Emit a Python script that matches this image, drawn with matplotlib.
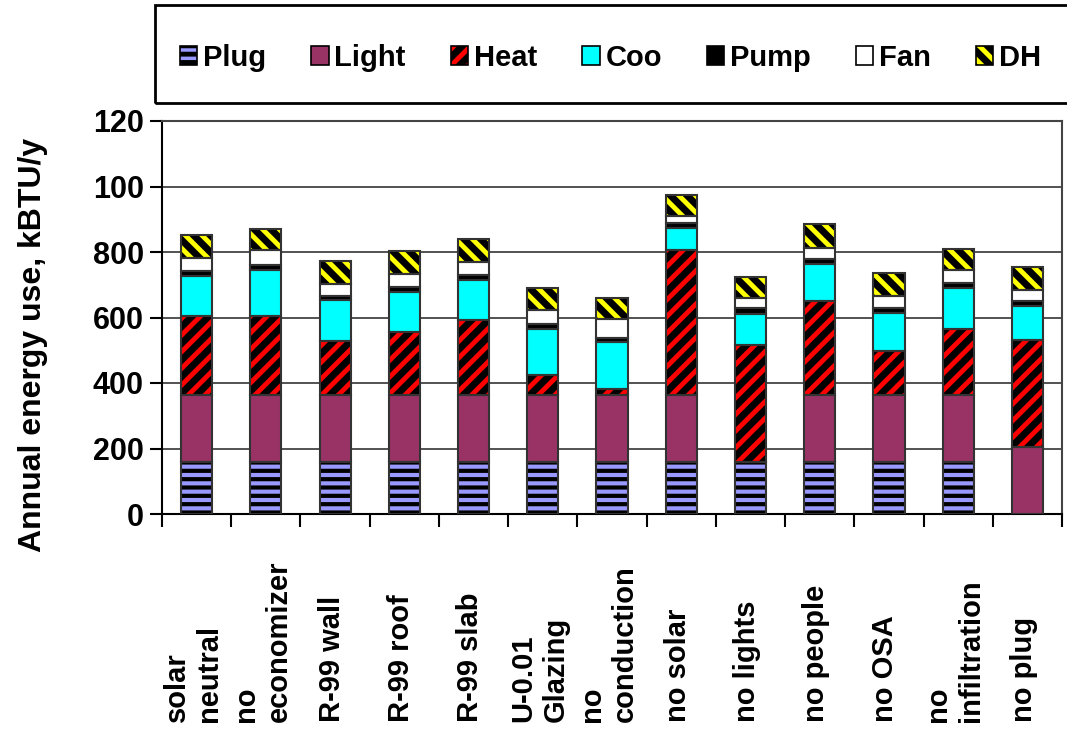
import matplotlib.pyplot as plt
import numpy as np
from matplotlib.patches import Patch, Rectangle
from matplotlib.legend_handler import HandlerTuple
from matplotlib.transforms import blended_transform_factory

plt.rcParams['font.family'] = ['Liberation Sans', 'DejaVu Sans']
plt.rcParams['font.weight'] = 'bold'
plt.rcParams['hatch.linewidth'] = 3.5

# ---- data (axis units 0-120) ----
categories = ["solar\nneutral", "no\neconomizer", "R-99 wall", "R-99 roof", "R-99 slab",
              "U-0.01\nGlazing", "no\nconduction", "no solar", "no lights", "no people",
              "no OSA", "no\ninfiltration", "no plug"]
plug  = [15.8, 15.8, 15.8, 15.8, 15.8, 15.8, 15.8, 15.8, 15.8, 15.8, 15.8, 15.8, 0.0]
light = [20.5, 20.5, 20.5, 20.5, 20.5, 20.5, 20.5, 20.5, 0.0, 20.5, 20.5, 20.5, 20.4]
heat  = [24.2, 24.2, 16.6, 19.4, 22.9, 6.1, 1.9, 44.3, 35.8, 28.8, 13.5, 20.2, 32.7]
coo   = [12.2, 14.0, 12.4, 12.0, 12.3, 14.0, 14.4, 6.6, 9.4, 11.1, 11.5, 12.4, 10.4]
pump  = [1.6, 1.5, 1.2, 1.5, 1.5, 1.5, 1.0, 1.7, 1.8, 1.7, 1.5, 1.5, 1.6]
fan   = [4.0, 4.6, 3.7, 4.0, 4.0, 4.4, 5.8, 2.2, 3.3, 3.2, 3.9, 4.1, 3.3]
dh    = [6.9, 6.4, 7.1, 7.2, 6.9, 6.6, 6.5, 6.3, 6.4, 7.4, 7.0, 6.3, 6.9]
ytick_vals = [0, 20, 40, 60, 80, 100, 120]
ytick_labels = ["0", "200", "400", "600", "800", "100", "120"]

# name, values, face, hatch, hatch colour, hatch lw
series = [
    ("Plug", plug, "#9999FF", "--", "black", 3.0),
    ("Light", light, "#993366", None, "#993366", 0),
    ("Heat", heat, "black", "//", "red", 3.5),
    ("Coo", coo, "#00FFFF", None, "#00FFFF", 0),
    ("Pump", pump, "black", None, "black", 0),
    ("Fan", fan, "white", None, "white", 0),
    ("DH", dh, "black", "\\\\", "yellow", 3.5),
]

fig = plt.figure(figsize=(10.67, 7.32), dpi=100)
ax = fig.add_axes([162 / 1067, 1 - 514 / 732, 900 / 1067, 393 / 732])

x = np.arange(len(categories))
width = 0.45
bottom = np.zeros(len(categories))
handles = []
for name, vals, face, hatch, hcol, hlw in series:
    vals = np.array(vals)
    bars = ax.bar(x, vals, width, bottom=bottom, color=face, edgecolor=hcol,
                  linewidth=0, hatch=hatch, zorder=3)
    if hatch and hasattr(bars[0], "set_hatch_linewidth"):
        for b in bars:
            b.set_hatch_linewidth(hlw)
    ax.bar(x, vals, width, bottom=bottom, fill=False, edgecolor="#333333",
           linewidth=1.5, zorder=4)
    h = Patch(facecolor=face, edgecolor=hcol, hatch=hatch, linewidth=0)
    if hatch and hasattr(h, "set_hatch_linewidth"):
        h.set_hatch_linewidth(hlw * 0.6)
    box = Patch(fill=False, edgecolor="black", linewidth=1.2)
    handles.append((h, box))
    bottom += vals

ax.set_xlim(-0.5, len(categories) - 0.5)
ax.set_ylim(0, 120)
ax.set_yticks(ytick_vals, ytick_labels, fontsize=22, fontweight="bold")
ax.yaxis.grid(True, color="#444444", linewidth=1.3, zorder=0)
ax.set_axisbelow(True)
ax.tick_params(axis="y", length=9, width=1.5, pad=4)

# boundary ticks on x, labels placed by hand
ax.set_xticks(np.arange(len(categories) + 1) - 0.5)
ax.set_xticklabels([])
ax.tick_params(axis="x", length=9, width=1.5)
for sp in ax.spines.values():
    sp.set_linewidth(1.5)
ax.spines["top"].set_color("#444444")
ax.spines["right"].set_color("#444444")

trans = blended_transform_factory(ax.transData, fig.transFigure)
for xi, lab in zip(x, categories):
    ax.text(xi - 0.05, 10 / 732, lab, transform=trans, rotation=90, ha="center", va="bottom",
            multialignment="left", fontsize=21, fontweight="bold", linespacing=1.2)

ax.set_ylabel("Annual energy use, kBTU/y", fontsize=23, fontweight="bold")
ax.yaxis.set_label_coords(-0.127, 0.43)

# legend box
fig.add_artist(Rectangle((155 / 1067, 1 - 103 / 732), 930 / 1067, 98 / 732,
                         transform=fig.transFigure, fill=False, linewidth=2,
                         edgecolor="black"))
fig.legend(handles, [s[0] for s in series], loc="center",
           bbox_to_anchor=(168 / 1067, 1 - 104 / 732, 885 / 1067, 92 / 732),
           mode="expand", ncol=7, frameon=False, fontsize=21,
           handlelength=0.6, handleheight=0.6, handletextpad=0.2,
           borderaxespad=0, columnspacing=1.0,
           handler_map={tuple: HandlerTuple(ndivide=1)})

fig.savefig("out.png", dpi=100)
